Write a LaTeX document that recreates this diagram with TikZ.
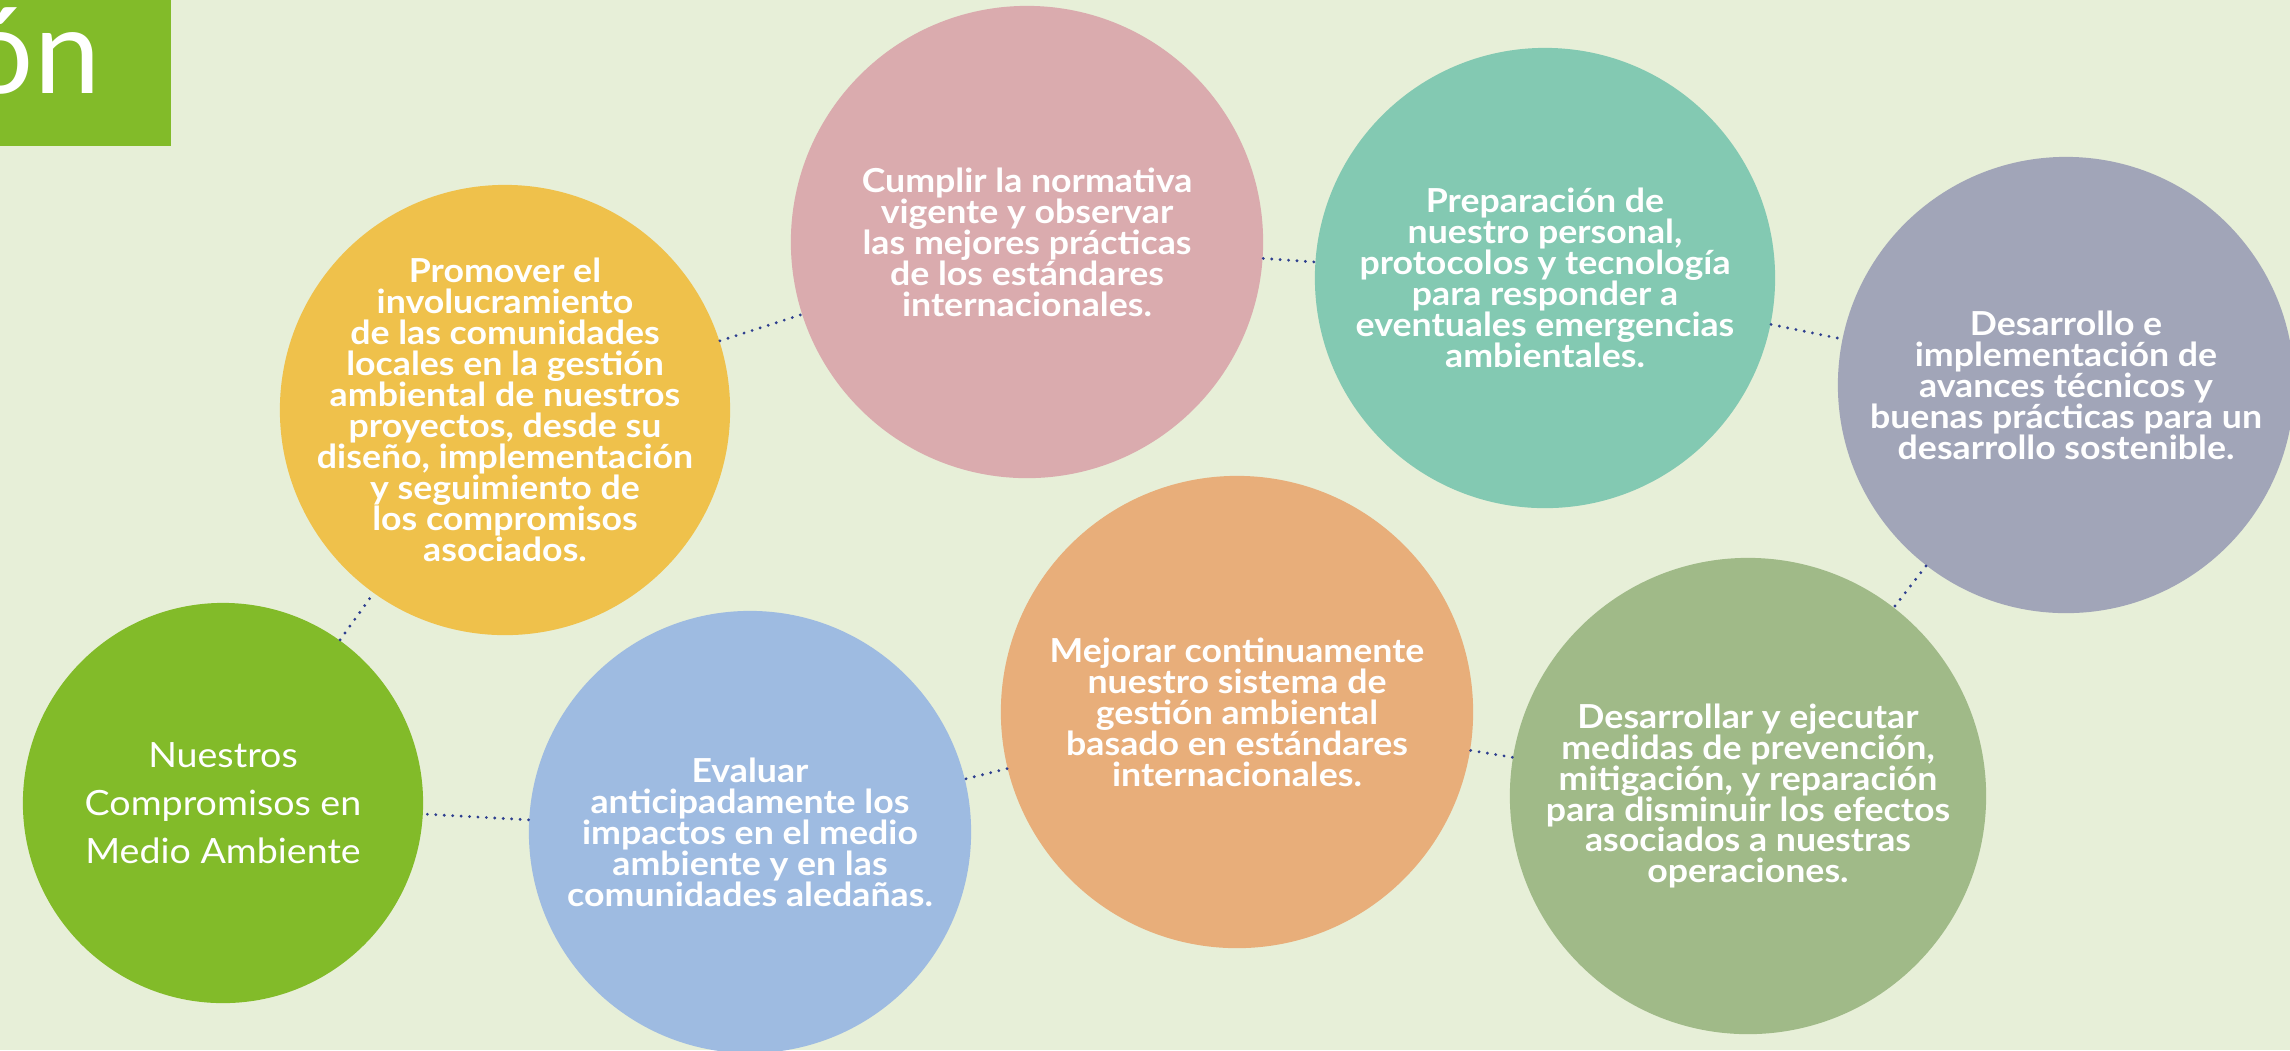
\documentclass[tikz,border=0pt]{standalone}
\usepackage{fontspec}
\setmainfont{Lato}
\newfontfamily\widelato[FakeStretch=1.08]{Lato}
\usepackage{xcolor}
\definecolor{bgcream}{HTML}{E7EFD8}
\definecolor{leaf}{HTML}{82BB29}
\definecolor{mustard}{HTML}{EFC14B}
\definecolor{rose}{HTML}{DAABAE}
\definecolor{mint}{HTML}{83C9B2}
\definecolor{slate}{HTML}{A1A5B8}
\definecolor{sky}{HTML}{9EBBE1}
\definecolor{apricot}{HTML}{E8AE7A}
\definecolor{sage}{HTML}{A0BA88}
\definecolor{dotblue}{HTML}{2E3F8F}

\begin{document}
\begin{tikzpicture}[x=0.01cm, y=-0.01cm,
  bubble/.style={circle, inner sep=0pt, draw=none},
  txt/.style={text=white, align=center, inner sep=0pt,
              font=\widelato\bfseries\fontsize{9.4}{8.8}\selectfont},
  conn/.style={draw=dotblue, line width=0.9pt, line cap=round,
               dash pattern=on 0pt off 2.4pt}]

\useasboundingbox (0,0) rectangle (2290,1050);
\fill[bgcream] (0,0) rectangle (2290,1050);

% title tab, cut by the left edge
\fill[leaf] (-20,-20) rectangle (171,146);
\node[anchor=base east, inner sep=0pt, text=white,
      font=\fontsize{33.7}{34}\selectfont] (title) at (101,93) {ón};

\node[bubble, fill=leaf, minimum size=4cm,
      label={[txt, font=\widelato\fontsize{9.9}{13.7}\selectfont]center:{Nuestros\\ Compromisos en\\ Medio Ambiente}}]
      (main) at (223,803) {};

\node[bubble, fill=mustard, minimum size=4.5cm,
      label={[txt]center:{Promover el\\ involucramiento\\ de las comunidades\\ locales en la gestión\\ ambiental de nuestros\\ proyectos, desde su\\ diseño, implementación\\ y seguimiento de\\ los compromisos\\ asociados.}}]
      (promover) at (505,410) {};
\draw[conn] (main) -- (promover);

\node[bubble, fill=rose, minimum size=4.72cm,
      label={[txt]center:{Cumplir la normativa\\ vigente y observar\\ las mejores prácticas\\ de los estándares\\ internacionales.}}]
      (cumplir) at (1027,242) {};
\draw[conn] (promover) -- (cumplir);

\node[bubble, fill=mint, minimum size=4.6cm,
      label={[txt]center:{Preparación de\\ nuestro personal,\\ protocolos y tecnología\\ para responder a\\ eventuales emergencias\\ ambientales.}}]
      (preparar) at (1545,278) {};
\draw[conn] (cumplir) -- (preparar);

\node[bubble, fill=slate, minimum size=4.56cm,
      label={[txt]center:{Desarrollo e\\ implementación de\\ avances técnicos y\\ buenas prácticas para un\\ desarrollo sostenible.}}]
      (desarrollo) at (2066,385) {};
\draw[conn] (preparar) -- (desarrollo);

\node[bubble, fill=sage, minimum size=4.76cm,
      label={[txt]center:{Desarrollar y ejecutar\\ medidas de prevención,\\ mitigación, y reparación\\ para disminuir los efectos\\ asociados a nuestras\\ operaciones.}}]
      (ejecutar) at (1748,796) {};
\draw[conn] (desarrollo) -- (ejecutar);

\node[bubble, fill=apricot, minimum size=4.72cm,
      label={[txt]center:{Mejorar continuamente\\ nuestro sistema de\\ gestión ambiental\\ basado en estándares\\ internacionales.}}]
      (mejorar) at (1237,712) {};
\draw[conn] (ejecutar) -- (mejorar);

\node[bubble, fill=sky, minimum size=4.42cm,
      label={[txt]center:{Evaluar\\ anticipadamente los\\ impactos en el medio\\ ambiente y en las\\ comunidades aledañas.}}]
      (evaluar) at (750,832) {};
\draw[conn] (mejorar) -- (evaluar);
\draw[conn] (evaluar) -- (main);
\end{tikzpicture}
\end{document}
